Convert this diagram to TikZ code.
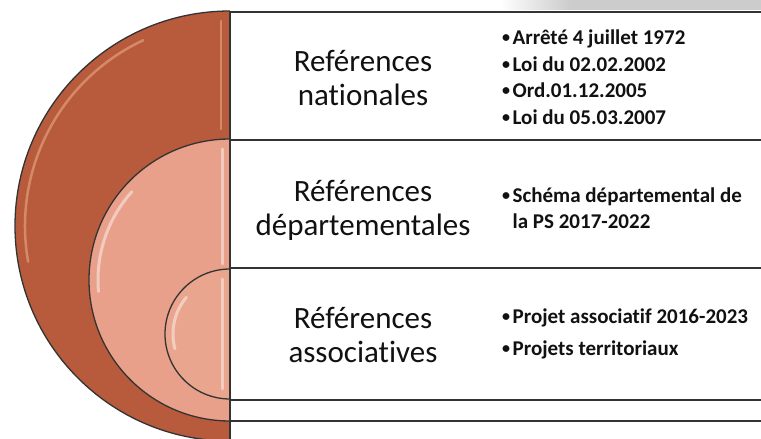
\documentclass[tikz,border=0pt]{standalone}
\usepackage{fontspec}
\setmainfont{Carlito}[Ligatures=NoCommon]
\definecolor{outerc}{HTML}{B85A3C}
\definecolor{midc}{HTML}{E8A08A}
\definecolor{innerc}{HTML}{E9A58E}
\definecolor{linegray}{HTML}{333333}
\definecolor{textdark}{HTML}{111111}
\definecolor{scan}{HTML}{CCCCCC}
\newcommand{\blt}{\raisebox{1.6pt}{\fontsize{16}{16}\selectfont •}\hspace{2.5pt}}
\begin{document}
\begin{tikzpicture}[x=1pt,y=1pt,
  outline/.style={draw=linegray, line width=1.3pt},
  boxline/.style={draw=linegray, line width=1.2pt},
  title/.style={align=center, font=\fontsize{31}{34}\selectfont, text=textdark, inner sep=0pt},
  refs/.style={align=left, anchor=west, font=\bfseries\fontsize{21}{26.5}\selectfont, text=textdark, inner sep=0pt},
  glossdark/.style={draw=orange!35!white, line cap=round, opacity=0.4, line width=2.5pt},
  glosslight/.style={draw=white, line cap=round, opacity=0.45, line width=3pt}]
\useasboundingbox (0,0) rectangle (761,439);
\fill[white] (0,0) rectangle (761,439);
% scan shadow at top right
\shade[left color=white, right color=scan] (500,429) rectangle (570,439);
\fill[scan] (570,429) rectangle (761,439);

% centres
\coordinate (c1) at (230,213);
\coordinate (c2) at (230,159);
\coordinate (c3) at (230,105);

% outer half disc
\fill[outerc] (230,428) arc[start angle=90, end angle=270, radius=215] -- cycle;
\draw[glossdark] ([shift={(115:205)}]c1) arc[start angle=115, end angle=190, radius=205];
\draw[glossdark] (221,418) -- (221,310);
\draw[outline] (230,428) arc[start angle=90, end angle=270, radius=215];

% middle half disc
\fill[midc] (230,300) arc[start angle=90, end angle=270, radius=141] -- cycle;
\draw[glosslight] ([shift={(138:132)}]c2) arc[start angle=138, end angle=185, radius=132];
\draw[glosslight] (222,290) -- (222,175);
\draw[outline] (230,300) arc[start angle=90, end angle=270, radius=141];

% inner half disc
\fill[innerc] (230,170) arc[start angle=90, end angle=270, radius=65] -- cycle;
\draw[glosslight] ([shift={(140:57)}]c3) arc[start angle=140, end angle=195, radius=57];
\draw[glosslight] (222,160) -- (222,50);
\draw[outline] (230,170) arc[start angle=90, end angle=270, radius=65];

% box lines
\coordinate (v1) at (230,428);
\coordinate (v2) at (230,0);
\draw[boxline] (v1) -- (v2);
\foreach \yy in {427,299,171,39,18} {
  \draw[boxline] (230,\yy) -- (761,\yy);
}

% titles
\node[title] (t1) at (363,361) {Reférences\\nationales};
\node[title] (t2) at (363,229) {Références\\départementales};
\node[title] (t3) at (363,104) {Références\\associatives};

% references
\node[refs] (r1) at (502,362) {\blt Arrêté 4 juillet 1972\\\blt Loi du 02.02.2002\\\blt Ord.01.12.2005\\\blt Loi du 05.03.2007};
\node[refs] (r2) at (502,231) {\blt Schéma départemental de\\\phantom{\blt}la PS 2017-2022};
\node[refs] (r3) at (502,105) {\blt Projet associatif 2016-2023\\[5.5pt]\blt Projets territoriaux};
\end{tikzpicture}
\end{document}
